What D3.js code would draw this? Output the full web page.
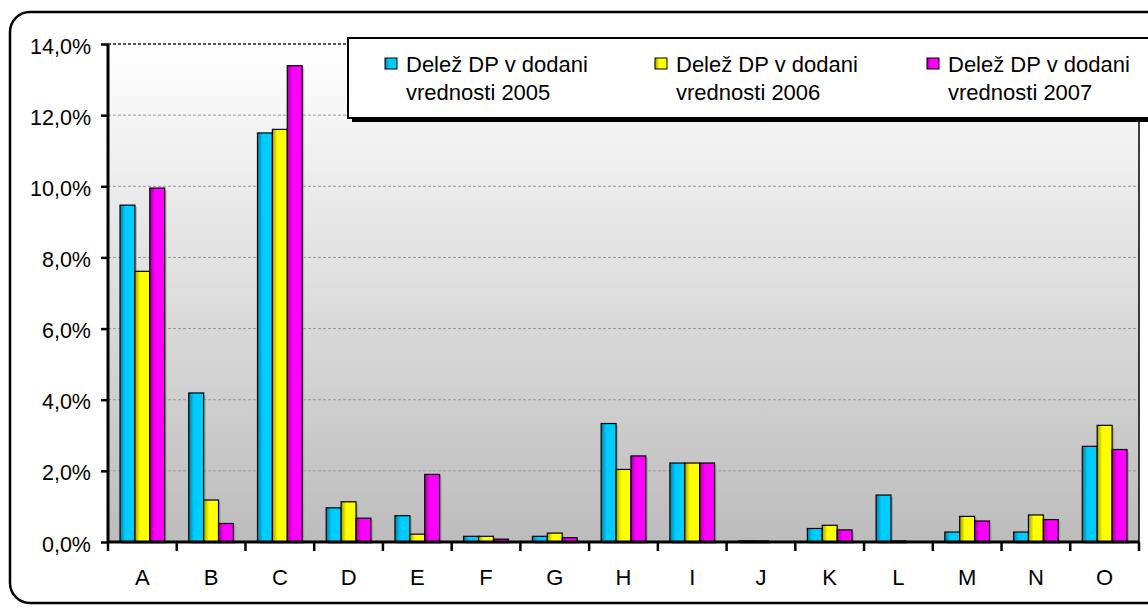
<!DOCTYPE html>
<html>
<head>
<meta charset="utf-8">
<script src="https://d3js.org/d3.v7.min.js"></script>
<style>
  body { margin: 0; background: #fff; }
  svg { display: block; font-family: "Liberation Sans", Arial, sans-serif; }
</style>
</head>
<body>
<svg id="chart" width="1148" height="607"></svg>
<script>
// podatki
const kategorije = ["A","B","C","D","E","F","G","H","I","J","K","L","M","N","O"];
const leta = ["2005","2006","2007"];
const delez2005 = [9.47, 4.19, 11.50, 0.96, 0.74, 0.16, 0.16, 3.33, 2.22, 0.03, 0.38, 1.32, 0.28, 0.28, 2.69];
const delez2006 = [7.61, 1.18, 11.60, 1.13, 0.22, 0.16, 0.25, 2.04, 2.22, 0.03, 0.47, 0.03, 0.72, 0.76, 3.28];
const delez2007 = [9.95, 0.52, 13.39, 0.67, 1.90, 0.08, 0.12, 2.42, 2.22, 0.00, 0.34, 0.00, 0.59, 0.63, 2.60];
const yTicks = [0, 2, 4, 6, 8, 10, 12, 14];
const serije = [delez2005, delez2006, delez2007];
const barve = [["#00809e","#00ccff"], ["#a0a000","#ffff00"], ["#9c009c","#ff00ff"]];

const svg = d3.select("#chart");
const margin = {top: 44, left: 108, right: 9, bottom: 65};
const W = 1148, H = 607;

// okvir z zaobljenimi robovi
svg.append("rect")
  .attr("x", 10).attr("y", 12)
  .attr("width", 1160).attr("height", 591)
  .attr("rx", 20)
  .attr("fill", "#fff").attr("stroke", "#000").attr("stroke-width", 2.5);

const defs = svg.append("defs");
const bg = defs.append("linearGradient").attr("id", "bg")
  .attr("x1", 0).attr("y1", 0).attr("x2", 0).attr("y2", 1);
bg.append("stop").attr("offset", "0%").attr("stop-color", "#ffffff");
bg.append("stop").attr("offset", "100%").attr("stop-color", "#bcbcbc");

barve.forEach((b, i) => {
  const g = defs.append("linearGradient").attr("id", "bar" + i)
    .attr("x1", 0).attr("y1", 0).attr("x2", 1).attr("y2", 0);
  g.append("stop").attr("offset", "0%").attr("stop-color", b[0]);
  g.append("stop").attr("offset", "35%").attr("stop-color", b[1]);
  g.append("stop").attr("offset", "100%").attr("stop-color", b[1]);
});

const x = d3.scaleBand()
  .domain(kategorije)
  .range([margin.left, W - margin.right])
  .paddingInner(0.35).paddingOuter(0.175);

const xBand = d3.scaleBand()
  .domain(kategorije)
  .range([margin.left, W - margin.right]);

const xSub = d3.scaleBand().domain(d3.range(3)).range([0, x.bandwidth()]);

const y = d3.scaleLinear().domain([0, 14]).range([H - margin.bottom, margin.top]);

// ozadje
svg.append("rect")
  .attr("x", margin.left).attr("y", y(14))
  .attr("width", W - margin.right - margin.left)
  .attr("height", y(0) - y(14))
  .attr("fill", "url(#bg)");

// mreža
svg.append("g")
  .selectAll("line")
  .data(yTicks.filter(d => d > 0))
  .enter().append("line")
    .attr("x1", margin.left).attr("x2", W - margin.right)
    .attr("y1", d => y(d)).attr("y2", d => y(d))
    .attr("stroke", d => d == 14 ? "#555" : "#999")
    .attr("stroke-width", d => d == 14 ? 2 : 1)
    .attr("stroke-dasharray", "3,2");

// desni rob
svg.append("line")
  .attr("x1", W - margin.right).attr("x2", W - margin.right)
  .attr("y1", y(14)).attr("y2", y(0))
  .attr("stroke", "#000").attr("stroke-width", 1.5);

// stolpci
serije.forEach((s, i) => {
  svg.append("g").selectAll("rect")
    .data(s)
    .enter().append("rect")
      .attr("x", (d, j) => x(kategorije[j]) + xSub(i) + 2)
      .attr("y", d => y(d) + 2)
      .attr("width", xSub.bandwidth())
      .attr("height", d => y(0) - y(d))
      .attr("fill", "#888").attr("opacity", 0.5);
});
serije.forEach((s, i) => {
  svg.append("g").selectAll("rect")
    .data(s)
    .enter().append("rect")
      .attr("x", (d, j) => x(kategorije[j]) + xSub(i))
      .attr("y", d => y(d))
      .attr("width", xSub.bandwidth())
      .attr("height", d => y(0) - y(d))
      .attr("fill", "url(#bar" + i + ")")
      .attr("stroke", "#000").attr("stroke-width", 1.2);
});

// osi
const yAxis = svg.append("g")
  .attr("transform", `translate(${margin.left},0)`)
  .call(d3.axisLeft(y).tickValues(yTicks).tickSize(7).tickPadding(10)
    .tickFormat(d => d3.format(".1f")(d).replace(".", ",") + "%"));
yAxis.select(".domain").attr("stroke-width", 3).attr("d", `M0,${y(14)}V${y(0)}`);
yAxis.selectAll(".tick line").attr("stroke-width", 2.5);
yAxis.selectAll("text").attr("font-size", "21.5px").attr("fill", "#000")
  .attr("dy", "0.42em")
  .attr("font-family", "Liberation Sans, Arial, sans-serif");

const xAxis = svg.append("g")
  .attr("transform", `translate(0,${y(0)})`)
  .call(d3.axisBottom(xBand).tickSize(0).tickPadding(27));
xAxis.select(".domain").attr("stroke-width", 3).attr("d", `M${margin.left},0H${W - margin.right}`);
xAxis.selectAll("text").attr("font-size", "22px").attr("fill", "#000")
  .attr("font-family", "Liberation Sans, Arial, sans-serif");

svg.append("g").selectAll("line")
  .data(kategorije.concat(["konec"]))
  .enter().append("line")
    .attr("x1", (d, i) => margin.left + i * xBand.bandwidth())
    .attr("x2", (d, i) => margin.left + i * xBand.bandwidth())
    .attr("y1", y(0)).attr("y2", y(0) + 9)
    .attr("stroke", "#000").attr("stroke-width", 2.5);

// legenda
const leg = svg.append("g");
leg.append("rect").attr("x", 352).attr("y", 42).attr("width", 800).attr("height", 80).attr("fill", "#000");
leg.append("rect").attr("x", 348).attr("y", 38).attr("width", 810).attr("height", 80)
  .attr("fill", "#fff").attr("stroke", "#000").attr("stroke-width", 2);

const legX = [385, 655, 927];
leta.forEach((l, i) => {
  leg.append("rect")
    .attr("x", legX[i]).attr("y", 58)
    .attr("width", 12).attr("height", 11)
    .attr("fill", "url(#bar" + i + ")")
    .attr("stroke", "#000").attr("stroke-width", 1);
  const t = leg.append("text")
    .attr("x", legX[i] + 21).attr("y", 72)
    .attr("font-size", "22px").attr("fill", "#000");
  t.append("tspan").text("Delež DP v dodani");
  t.append("tspan").attr("x", legX[i] + 21).attr("dy", 28).text("vrednosti " + l);
});
</script>
</body>
</html>
